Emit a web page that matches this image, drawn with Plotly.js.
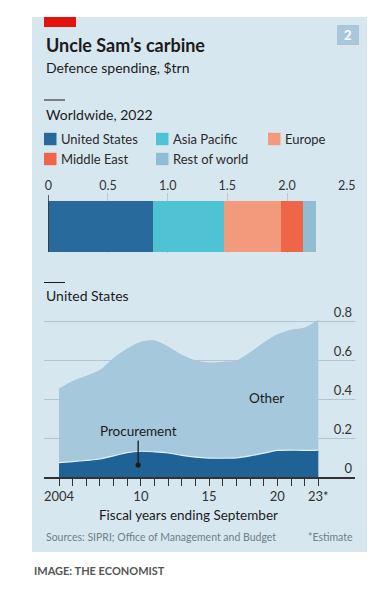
<!DOCTYPE html>
<html>
<head>
<meta charset="utf-8">
<script src="https://cdn.plot.ly/plotly-3.0.1.min.js"></script>
<style>html,body{margin:0;padding:0;background:#fff;}#chart{width:391px;height:596px;}</style>
</head>
<body>
<div id="chart"></div>
<script>
// ---- Data ----
const regions = ["United States", "Asia Pacific", "Europe", "Middle East", "Rest of world"];
const regionSpend2022 = [0.877, 0.595, 0.475, 0.190, 0.105];
const regionColors = ["#276a9b", "#4fc2d3", "#f39a7c", "#ee6647", "#91bdd3"];
const barTickVals = [0, 0.5, 1.0, 1.5, 2.0, 2.5];
const barTickText = ["0", "0.5", "1.0", "1.5", "2.0", "2.5"];

const years = [2004,2005,2006,2007,2008,2009,2010,2011,2012,2013,2014,2015,2016,2017,2018,2019,2020,2021,2022,2023];
const usTotal = [0.456,0.495,0.522,0.553,0.614,0.662,0.697,0.703,0.672,0.630,0.602,0.590,0.594,0.600,0.643,0.693,0.735,0.758,0.770,0.810];
const usProcurement = [0.075,0.081,0.087,0.094,0.110,0.127,0.134,0.131,0.125,0.113,0.104,0.099,0.098,0.100,0.110,0.124,0.138,0.140,0.138,0.140];
const yearTickText = ["2004","","","","","","10","","","","","15","","","","","20","","","23*"];
const usTickVals = [0, 0.2, 0.4, 0.6, 0.8];
const usTickText = ["0", "0.2", "0.4", "0.6", "0.8"];

// ---- Helpers (paper coords from pixels) ----
const W = 391, H = 596;
const px = x => x / W;
const py = y => 1 - y / H;
const FONT = "Lato, 'Open Sans', sans-serif";
const DARK = "#1b1b1b";
const Y0 = 477.3, PXU = 194.5, YTOP = 0.92;

const traces = [];
regions.forEach((r, i) => {
  traces.push({
    type: "bar", orientation: "h", name: r,
    x: [regionSpend2022[i]], y: [0], width: 0.857,
    marker: {color: regionColors[i], line: {width: 0}},
    xaxis: "x", yaxis: "y", showlegend: false, hoverinfo: "skip"
  });
});
traces.push({
  type: "scatter", mode: "lines", name: "Other",
  x: years, y: usTotal, fill: "tozeroy", fillcolor: "#a5c8dc",
  line: {width: 0, shape: "spline", smoothing: 0.8, color: "#a5c8dc"},
  xaxis: "x2", yaxis: "y2", showlegend: false, hoverinfo: "skip"
});
traces.push({
  type: "scatter", mode: "lines", name: "Procurement",
  x: years, y: usProcurement, fill: "tozeroy", fillcolor: "#1f6396",
  line: {width: 1.2, shape: "spline", smoothing: 0.8, color: "#e6f0f5"},
  xaxis: "x2", yaxis: "y2", showlegend: false, hoverinfo: "skip"
});

const shapes = [
  // card
  {type: "rect", xref: "paper", yref: "paper", x0: px(32), x1: px(367), y0: py(552), y1: py(17), fillcolor: "#d7e7f0", line: {width: 0}, layer: "below"},
  // red tag
  {type: "rect", xref: "paper", yref: "paper", x0: px(44), x1: px(76), y0: py(27), y1: py(17), fillcolor: "#e3120b", line: {width: 0}},
  // badge
  {type: "rect", xref: "paper", yref: "paper", x0: px(337), x1: px(359), y0: py(45), y1: py(25), fillcolor: "#a8c7d9", line: {width: 0}},
  // short header rules
  {type: "line", xref: "paper", yref: "paper", x0: px(44), x1: px(65), y0: py(100), y1: py(100), line: {color: DARK, width: 1}},
  {type: "line", xref: "paper", yref: "paper", x0: px(44), x1: px(65), y0: py(282.5), y1: py(282.5), line: {color: DARK, width: 1}},
  // zero line of bar chart
  {type: "line", xref: "x", yref: "paper", x0: 0, x1: 0, y0: py(252), y1: py(195), line: {color: DARK, width: 1.3}, layer: "above"}
];

const annotations = [
  {text: "<b>Uncle Sam’s carbine</b>", x: px(44), y: py(44.5), xref: "paper", yref: "paper", xanchor: "left", yanchor: "middle", showarrow: false, font: {size: 18, color: DARK, family: FONT}},
  {text: "Defence spending, $trn", x: px(44), y: py(68), xref: "paper", yref: "paper", xanchor: "left", yanchor: "middle", showarrow: false, font: {size: 14, color: DARK, family: FONT}},
  {text: "<b>2</b>", x: px(348), y: py(35), xref: "paper", yref: "paper", xanchor: "center", yanchor: "middle", showarrow: false, font: {size: 13, color: "#ffffff", family: FONT}},
  {text: "Worldwide, 2022", x: px(44), y: py(114), xref: "paper", yref: "paper", xanchor: "left", yanchor: "middle", showarrow: false, font: {size: 14, color: DARK, family: FONT}},
  {text: "United States", x: px(44), y: py(296), xref: "paper", yref: "paper", xanchor: "left", yanchor: "middle", showarrow: false, font: {size: 14, color: DARK, family: FONT}},
  {text: "Fiscal years ending September", x: px(188.5), y: py(515), xref: "paper", yref: "paper", xanchor: "center", yanchor: "middle", showarrow: false, font: {size: 13.5, color: DARK, family: FONT}},
  {text: "Sources: SIPRI; Office of Management and Budget", x: px(44), y: py(536.5), xref: "paper", yref: "paper", xanchor: "left", yanchor: "middle", showarrow: false, font: {size: 10.5, color: "#6f7f89", family: FONT}},
  {text: "*Estimate", x: px(355), y: py(536.5), xref: "paper", yref: "paper", xanchor: "right", yanchor: "middle", showarrow: false, font: {size: 10.5, color: "#6f7f89", family: FONT}},
  {text: "<b>IMAGE: THE ECONOMIST</b>", x: px(32), y: py(570), xref: "paper", yref: "paper", xanchor: "left", yanchor: "middle", showarrow: false, font: {size: 11, color: "#555555", family: FONT}},
  // area labels
  {text: "Other", x: 2019.2, y: 0.408, xref: "x2", yref: "y2", xanchor: "center", yanchor: "middle", showarrow: false, font: {size: 13.5, color: DARK, family: FONT}},
  {text: "Procurement", x: 2009.8, y: 0.063, xref: "x2", yref: "y2", ax: 0, ay: -34, showarrow: true, arrowhead: 6, arrowsize: 1, arrowwidth: 1.3, arrowcolor: DARK, standoff: 0, font: {size: 13.5, color: DARK, family: FONT}}
];

// custom legend: squares + labels laid out in two rows of three columns
const legendCols = [44, 156, 268];
const legendRows = [139, 159];
regions.forEach((r, i) => {
  const cx = legendCols[i % 3], cy = legendRows[Math.floor(i / 3)];
  shapes.push({type: "rect", xref: "paper", yref: "paper", x0: px(cx), x1: px(cx + 12.5), y0: py(cy + 6.2), y1: py(cy - 6.2), fillcolor: regionColors[i], line: {width: 0}});
  annotations.push({text: r, x: px(cx + 14.5), y: py(cy), xref: "paper", yref: "paper", xanchor: "left", yanchor: "middle", showarrow: false, font: {size: 13, color: "#2a2a2a", family: FONT}});
});

const layout = {
  width: W, height: H,
  margin: {l: 0, r: 0, t: 0, b: 0, pad: 0},
  paper_bgcolor: "#ffffff", plot_bgcolor: "rgba(0,0,0,0)",
  font: {family: FONT, color: "#333333", size: 12.5},
  showlegend: false, barmode: "stack", bargap: 0,
  xaxis: {
    domain: [px(48.3), px(346.7)], range: [0, 2.5], side: "top", anchor: "y",
    tickvals: barTickVals, ticktext: barTickText, ticks: "",
    showgrid: true, gridcolor: "#b8cad4", gridwidth: 1, zeroline: false, showline: false,
    tickfont: {size: 12.5, color: "#333333"}, fixedrange: true
  },
  yaxis: {
    domain: [py(252.5), py(193)], range: [-0.442, 0.558], anchor: "x",
    showticklabels: false, showgrid: false, zeroline: false, showline: false, fixedrange: true
  },
  xaxis2: {
    domain: [px(44), px(355)], range: [2002.9, 2025.69], anchor: "y2",
    tickvals: years, ticktext: yearTickText, ticks: "outside", ticklen: 7, tickwidth: 1, tickcolor: "#333333",
    showline: true, linecolor: "#333333", linewidth: 1.2, showgrid: false, zeroline: false,
    tickfont: {size: 13, color: "#333333"}, fixedrange: true
  },
  yaxis2: {
    domain: [py(Y0), py(Y0 - YTOP * PXU)], range: [0, YTOP], anchor: "x2", side: "right",
    tickvals: usTickVals, ticktext: usTickText, ticks: "", ticklabelposition: "inside top",
    showgrid: true, gridcolor: "#b2c5d0", gridwidth: 1, zeroline: false, showline: false,
    tickfont: {size: 13, color: "#333333"}, fixedrange: true
  },
  shapes: shapes,
  annotations: annotations
};

Plotly.newPlot("chart", traces, layout, {displayModeBar: false, staticPlot: true});
</script>
</body>
</html>
